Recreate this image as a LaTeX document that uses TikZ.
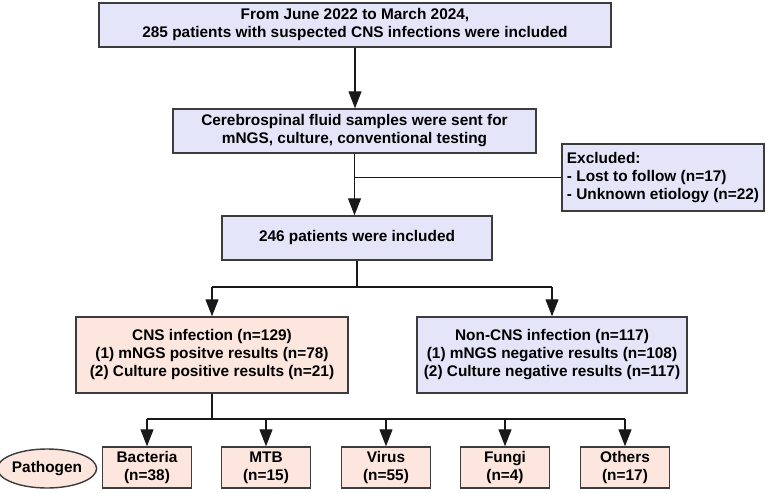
\documentclass[tikz,border=0pt]{standalone}
\usepackage{fontspec}
\setmainfont{Liberation Sans}
\usepackage{tikz}
\usetikzlibrary{arrows.meta, positioning, calc, shapes.geometric}

\definecolor{lilas}{RGB}{229,229,250}
\definecolor{salmao}{RGB}{252,230,221}
\definecolor{borda}{RGB}{60,60,60}
\definecolor{linha}{RGB}{25,25,25}

\begin{document}
\begin{tikzpicture}[x=1pt, y=-1pt, >={Triangle[length=17pt, width=13pt]},
    caixa/.style={draw=borda, line width=1.4pt, fill=lilas, align=center, inner sep=0pt,
        font=\fontsize{15.4}{18}\selectfont\bfseries},
    caixarosa/.style={caixa, fill=salmao},
    fio/.style={draw=linha, line width=1.2pt},
    seta/.style={fio, ->}]

    \useasboundingbox (0,0) rectangle (767,492);

    \coordinate (ramo1) at (357,287);
    \coordinate (ramo2) at (212,419);

    % Caixas principais
    \node[caixa, minimum width=512pt, minimum height=44pt] (topo) at (355,25)
        {From June 2022 to March 2024,\\285 patients with suspected CNS infections were included};
    \node[caixa, minimum width=363pt, minimum height=44pt] (liquor) at (354.5,131)
        {Cerebrospinal fluid samples were sent for\\mNGS, culture, conventional testing};
    \node[caixa, align=left, minimum width=202pt, minimum height=67pt] (excl) at (663,177.5)
        {Excluded:\\- Lost to follow (n=17)\\- Unknown etiology (n=22)};
    \node[caixa, minimum width=270pt, minimum height=44pt] (incl) at (357,238)
        {246 patients were included};

    % Grupos
    \node[caixarosa, minimum width=272pt, minimum height=76pt] (cns) at (212,355)
        {CNS infection (n=129)\\(1) mNGS positve results (n=78)\\(2) Culture positive results (n=21)};
    \node[caixa, minimum width=270pt, minimum height=76pt] (naocns) at (552,355)
        {Non-CNS infection (n=117)\\(1) mNGS negative results (n=108)\\(2) Culture negative results (n=117)};

    % Patogenos
    \node[ellipse, draw=borda, line width=1.4pt, fill=salmao, inner sep=0pt,
        minimum width=90pt, minimum height=39pt, font=\fontsize{15.4}{18}\selectfont\bfseries]
        (patog) at (47,468.5) {Pathogen};
    \foreach \nome/\x/\rot/\qtd in {bact/147/Bacteria/38, mtb/266/MTB/15, virus/386/Virus/55,
        fungos/505/Fungi/4, outros/625/Others/17} {
        \node[caixarosa, minimum width=89pt, minimum height=41pt] (\nome) at (\x,467.5)
            {\rot\\(n=\qtd)};
        \draw[seta] (ramo2 -| \nome.north) -- (\nome.north);
    }

    % Conexoes
    \draw[seta] (topo.south) -- (topo.south |- liquor.north);
    \draw[seta] (liquor.south) -- (liquor.south |- incl.north);
    \draw[fio] (excl.west) -- (excl.west -| liquor.south);

    \draw[fio] (incl.south) -- (incl.south |- ramo1);
    \draw[fio] (ramo1 -| cns.north) -- (ramo1 -| naocns.north);
    \draw[seta] (ramo1 -| cns.north) -- (cns.north);
    \draw[seta] (ramo1 -| naocns.north) -- (naocns.north);

    \draw[fio] (cns.south) -- (ramo2);
    \draw[fio] (ramo2 -| bact.north) -- (ramo2 -| outros.north);

\end{tikzpicture}
\end{document}
